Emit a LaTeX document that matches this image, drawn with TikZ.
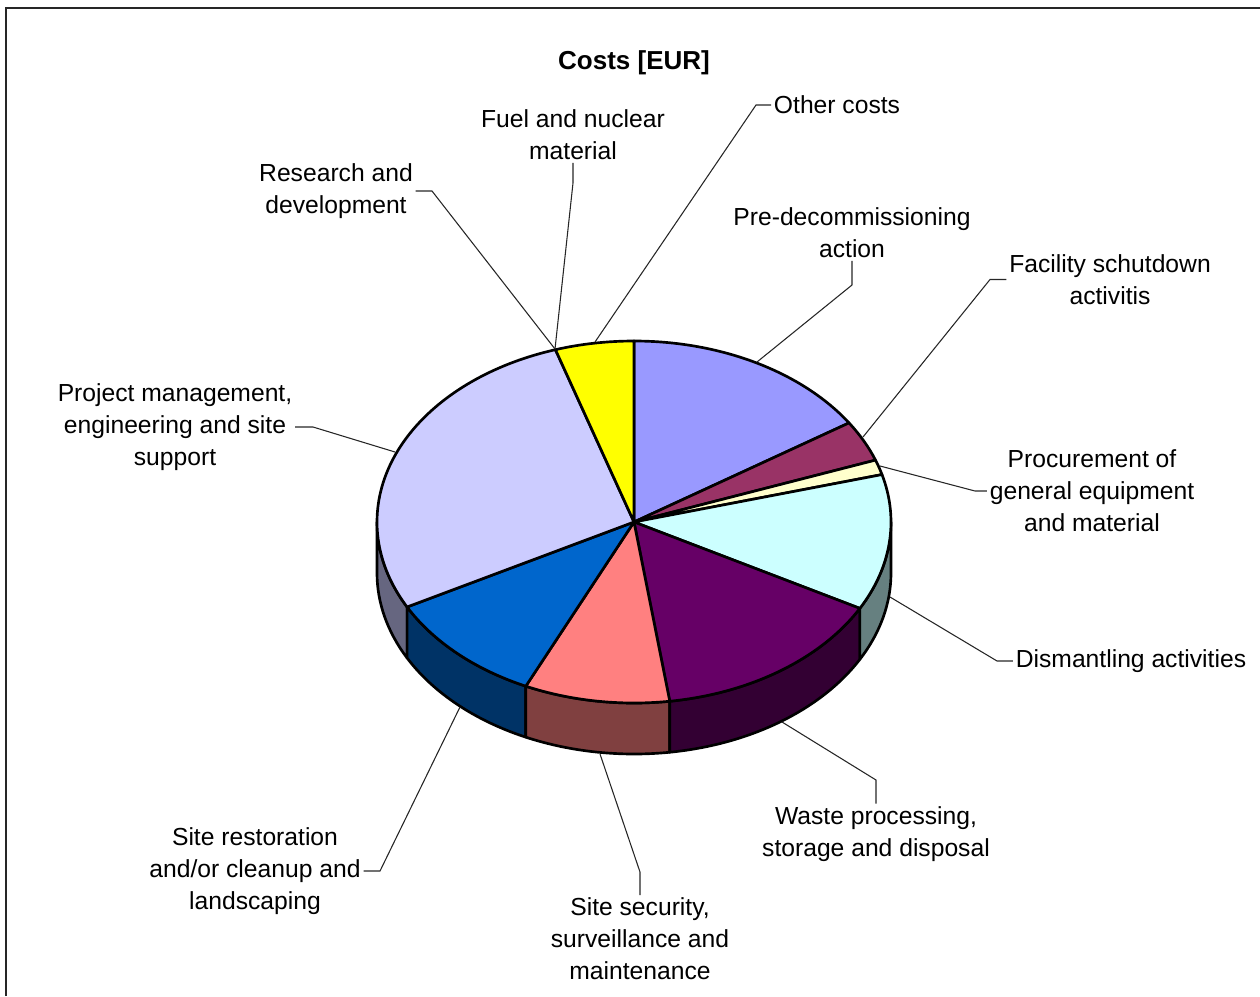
\documentclass[tikz,border=0pt]{standalone}
\usepackage{fontspec}
\setmainfont{Liberation Sans}
\usetikzlibrary{calc}
\definecolor{cPre}{HTML}{9999FF}
\definecolor{cFac}{HTML}{993366}
\definecolor{cProc}{HTML}{FFFFCC}
\definecolor{cDism}{HTML}{CCFFFF}
\definecolor{cWaste}{HTML}{660066}
\definecolor{cSec}{HTML}{FF8080}
\definecolor{cRest}{HTML}{0066CC}
\definecolor{cProj}{HTML}{CCCCFF}
\definecolor{cOther}{HTML}{FFFF00}
\definecolor{sProj}{HTML}{666680}
\definecolor{sRest}{HTML}{003366}
\definecolor{sSec}{HTML}{804040}
\definecolor{sWaste}{HTML}{330033}
\definecolor{sDism}{HTML}{668080}
\newcommand\myrx{257}
\newcommand\myry{181}
\newcommand\mydp{51}
\newcommand\pieside[3]{\filldraw[slice, fill=#3] ($(c)+(#1:\myrx\space and \myry)$) arc[start angle=#1, end angle=#2, x radius=\myrx, y radius=\myry] -- ++(0,-\mydp) arc[start angle=#2, end angle=#1, x radius=\myrx, y radius=\myry] -- cycle;}
\newcommand\pietop[3]{\filldraw[slice, fill=#3] (c) -- ($(c)+(#1:\myrx\space and \myry)$) arc[start angle=#1, end angle=#2, x radius=\myrx, y radius=\myry] -- cycle;}
\begin{document}
\begin{tikzpicture}[x=0.75pt,y=0.75pt,
  lbl/.style={font=\fontsize{18.5}{24}\selectfont, align=center, inner sep=2pt},
  leader/.style={draw=black!85, line width=0.8pt},
  slice/.style={draw=black, line width=2pt, line join=round}]
\useasboundingbox (0,0) rectangle (1260,-996);
\draw[line width=1.5pt, black!85] (5.5,-996) -- (5.5,-7.5) -- (1260,-7.5);
\coordinate (c) at (634,-522);
% side walls
\pieside{180}{208}{sProj}
\pieside{208}{245.1}{sRest}
\pieside{245.1}{278}{sSec}
\pieside{278}{331.5}{sWaste}
\pieside{331.5}{360}{sDism}
% top slices
\pietop{33.2}{90}{cPre}
\pietop{20}{33.2}{cFac}
\pietop{15.2}{20}{cProc}
\pietop{-28.5}{15.2}{cDism}
\pietop{-82}{-28.5}{cWaste}
\pietop{-114.9}{-82}{cSec}
\pietop{-152}{-114.9}{cRest}
\pietop{107.8}{208}{cProj}
\pietop{90}{107.8}{cOther}
% title
\node[font=\bfseries\fontsize{19.5}{24}\selectfont] (title) at (634,-63) {Costs [EUR]};
% labels
\node[lbl] (other) at (837,-105) {Other costs};
\node[lbl] (fuel) at (573,-135) {Fuel and nuclear\\material};
\node[lbl] (rd) at (336,-191) {Research and\\development};
\node[lbl] (predec) at (852,-233) {Pre-decommissioning\\action};
\node[lbl] (fac) at (1110,-279.5) {Facility schutdown\\activitis};
\node[lbl] (proc) at (1092,-491) {Procurement of\\general equipment\\and material};
\node[lbl] (dism) at (1131,-661) {Dismantling activities};
\node[lbl] (waste) at (876,-834) {Waste processing,\\storage and disposal};
\node[lbl] (sec) at (640,-939) {Site security,\\surveillance and\\maintenance};
\node[lbl] (rest) at (255,-871) {Site restoration\\and/or cleanup and\\landscaping};
\node[lbl] (proj) at (175,-427) {Project management,\\engineering and site\\support};
% anchor points on the pie
\coordinate (pOther) at (595,-342);
\coordinate (pFuel) at (555,-349);
\coordinate (pRd) at (555,-349);
\coordinate (pPre) at (757,-362);
\coordinate (pFac) at (863,-437);
\coordinate (pProc) at (880,-466);
\coordinate (pDism) at (890,-597);
\coordinate (pWaste) at (782,-722);
\coordinate (pSec) at (600,-754);
\coordinate (pRest) at (460,-707);
\coordinate (pProj) at (395,-452);
% bends
\coordinate (bOther) at (756,-105);
\coordinate (bFuel) at (573,-183);
\coordinate (bRd) at (432,-191);
\coordinate (bPre) at (852,-285);
\coordinate (bFac) at (990,-279.5);
\coordinate (bProc) at (975,-491);
\coordinate (bDism) at (997,-661);
\coordinate (bWaste) at (876,-780);
\coordinate (bSec) at (640,-872);
\coordinate (bRest) at (380,-871);
\coordinate (bProj) at (313,-427);
% leaders
\draw[leader] (other.west) -- (bOther) -- (pOther);
\draw[leader] (fuel.south) -- (bFuel) -- (pFuel);
\draw[leader] (rd.east) -- (bRd) -- (pRd);
\draw[leader] (predec.south) -- (bPre) -- (pPre);
\draw[leader] (fac.west) -- (bFac) -- (pFac);
\draw[leader] (proc.west) -- (bProc) -- (pProc);
\draw[leader] (dism.west) -- (bDism) -- (pDism);
\draw[leader] (waste.north) -- (bWaste) -- (pWaste);
\draw[leader] (sec.north) -- (bSec) -- (pSec);
\draw[leader] (rest.east) -- (bRest) -- (pRest);
\draw[leader] (proj.east) -- (bProj) -- (pProj);
\end{tikzpicture}
\end{document}
